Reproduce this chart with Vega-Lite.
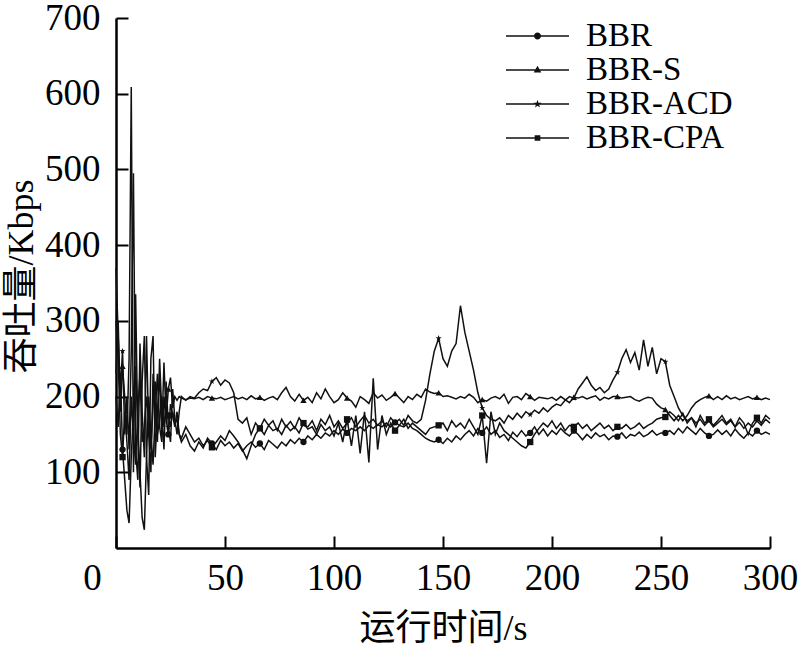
{
"$schema": "https://vega.github.io/schema/vega-lite/v6.json",
"width": 654, "height": 530,
"autosize": {"type": "none"},
"padding": {"left": 116, "top": 18, "right": 30, "bottom": 98},
"background": "white",
"config": {"view": {"stroke": null}, "font": "'Times New Roman', 'Liberation Serif', 'DejaVu Serif', serif"},
"data": {"values": [
{"t":0,"BBR":200,"BBR-S":230,"BBR-ACD":370,"BBR-CPA":300,"m":0},
{"t":1,"BBR":160,"BBR-S":300,"BBR-ACD":280,"BBR-CPA":250,"m":0},
{"t":2,"BBR":230,"BBR-S":180,"BBR-ACD":210,"BBR-CPA":150,"m":0},
{"t":3,"BBR":130,"BBR-S":240,"BBR-ACD":260,"BBR-CPA":120,"m":1},
{"t":4,"BBR":90,"BBR-S":200,"BBR-ACD":150,"BBR-CPA":180,"m":0},
{"t":5,"BBR":50,"BBR-S":150,"BBR-ACD":200,"BBR-CPA":140,"m":0},
{"t":6,"BBR":33,"BBR-S":250,"BBR-ACD":130,"BBR-CPA":90,"m":0},
{"t":7,"BBR":120,"BBR-S":609,"BBR-ACD":260,"BBR-CPA":200,"m":0},
{"t":8,"BBR":180,"BBR-S":100,"BBR-ACD":495,"BBR-CPA":150,"m":0},
{"t":9,"BBR":240,"BBR-S":335,"BBR-ACD":130,"BBR-CPA":110,"m":0},
{"t":10,"BBR":160,"BBR-S":150,"BBR-ACD":90,"BBR-CPA":180,"m":0},
{"t":11,"BBR":100,"BBR-S":80,"BBR-ACD":270,"BBR-CPA":230,"m":0},
{"t":12,"BBR":40,"BBR-S":220,"BBR-ACD":180,"BBR-CPA":140,"m":0},
{"t":13,"BBR":24,"BBR-S":280,"BBR-ACD":120,"BBR-CPA":160,"m":0},
{"t":14,"BBR":120,"BBR-S":120,"BBR-ACD":280,"BBR-CPA":200,"m":0},
{"t":15,"BBR":200,"BBR-S":70,"BBR-ACD":150,"BBR-CPA":170,"m":0},
{"t":16,"BBR":150,"BBR-S":250,"BBR-ACD":100,"BBR-CPA":130,"m":0},
{"t":17,"BBR":110,"BBR-S":280,"BBR-ACD":230,"BBR-CPA":190,"m":0},
{"t":18,"BBR":180,"BBR-S":120,"BBR-ACD":170,"BBR-CPA":220,"m":0},
{"t":19,"BBR":230,"BBR-S":180,"BBR-ACD":140,"BBR-CPA":150,"m":0},
{"t":20,"BBR":160,"BBR-S":230,"BBR-ACD":250,"BBR-CPA":170,"m":0},
{"t":21,"BBR":140,"BBR-S":150,"BBR-ACD":180,"BBR-CPA":200,"m":0},
{"t":22,"BBR":200,"BBR-S":245,"BBR-ACD":130,"BBR-CPA":160,"m":0},
{"t":23,"BBR":170,"BBR-S":170,"BBR-ACD":220,"BBR-CPA":185,"m":0},
{"t":24,"BBR":150,"BBR-S":210,"BBR-ACD":160,"BBR-CPA":175,"m":1},
{"t":25,"BBR":190,"BBR-S":225,"BBR-ACD":140,"BBR-CPA":160,"m":0},
{"t":26,"BBR":175,"BBR-S":185,"BBR-ACD":210,"BBR-CPA":180,"m":0},
{"t":27,"BBR":160,"BBR-S":200,"BBR-ACD":170,"BBR-CPA":165,"m":0},
{"t":28,"BBR":180,"BBR-S":195,"BBR-ACD":150,"BBR-CPA":170,"m":0},
{"t":29,"BBR":150,"BBR-S":200,"BBR-ACD":180,"BBR-CPA":150,"m":0},
{"t":30,"BBR":140,"BBR-S":198,"BBR-ACD":200,"BBR-CPA":145,"m":0},
{"t":32,"BBR":150,"BBR-S":196,"BBR-ACD":195,"BBR-CPA":160,"m":0},
{"t":34,"BBR":135,"BBR-S":198,"BBR-ACD":200,"BBR-CPA":150,"m":0},
{"t":36,"BBR":128,"BBR-S":197,"BBR-ACD":198,"BBR-CPA":140,"m":0},
{"t":38,"BBR":140,"BBR-S":199,"BBR-ACD":205,"BBR-CPA":145,"m":0},
{"t":40,"BBR":132,"BBR-S":196,"BBR-ACD":210,"BBR-CPA":135,"m":0},
{"t":42,"BBR":145,"BBR-S":200,"BBR-ACD":208,"BBR-CPA":142,"m":0},
{"t":44,"BBR":138,"BBR-S":198,"BBR-ACD":220,"BBR-CPA":133,"m":1},
{"t":46,"BBR":130,"BBR-S":197,"BBR-ACD":225,"BBR-CPA":140,"m":0},
{"t":48,"BBR":142,"BBR-S":199,"BBR-ACD":215,"BBR-CPA":148,"m":0},
{"t":50,"BBR":135,"BBR-S":196,"BBR-ACD":222,"BBR-CPA":142,"m":0},
{"t":52,"BBR":140,"BBR-S":198,"BBR-ACD":218,"BBR-CPA":155,"m":0},
{"t":54,"BBR":132,"BBR-S":200,"BBR-ACD":205,"BBR-CPA":148,"m":0},
{"t":56,"BBR":138,"BBR-S":197,"BBR-ACD":170,"BBR-CPA":140,"m":0},
{"t":58,"BBR":128,"BBR-S":199,"BBR-ACD":165,"BBR-CPA":130,"m":0},
{"t":60,"BBR":135,"BBR-S":196,"BBR-ACD":172,"BBR-CPA":118,"m":0},
{"t":62,"BBR":140,"BBR-S":201,"BBR-ACD":150,"BBR-CPA":135,"m":0},
{"t":64,"BBR":133,"BBR-S":197,"BBR-ACD":165,"BBR-CPA":150,"m":0},
{"t":66,"BBR":138,"BBR-S":199,"BBR-ACD":158,"BBR-CPA":158,"m":1},
{"t":68,"BBR":130,"BBR-S":195,"BBR-ACD":170,"BBR-CPA":150,"m":0},
{"t":70,"BBR":142,"BBR-S":198,"BBR-ACD":162,"BBR-CPA":162,"m":0},
{"t":72,"BBR":137,"BBR-S":200,"BBR-ACD":168,"BBR-CPA":155,"m":0},
{"t":74,"BBR":132,"BBR-S":196,"BBR-ACD":155,"BBR-CPA":158,"m":0},
{"t":76,"BBR":140,"BBR-S":205,"BBR-ACD":170,"BBR-CPA":150,"m":0},
{"t":78,"BBR":135,"BBR-S":212,"BBR-ACD":160,"BBR-CPA":162,"m":0},
{"t":80,"BBR":143,"BBR-S":200,"BBR-ACD":167,"BBR-CPA":155,"m":0},
{"t":82,"BBR":138,"BBR-S":194,"BBR-ACD":158,"BBR-CPA":160,"m":0},
{"t":84,"BBR":145,"BBR-S":203,"BBR-ACD":172,"BBR-CPA":152,"m":0},
{"t":86,"BBR":140,"BBR-S":195,"BBR-ACD":163,"BBR-CPA":165,"m":1},
{"t":88,"BBR":148,"BBR-S":199,"BBR-ACD":160,"BBR-CPA":157,"m":0},
{"t":90,"BBR":143,"BBR-S":192,"BBR-ACD":168,"BBR-CPA":160,"m":0},
{"t":92,"BBR":150,"BBR-S":205,"BBR-ACD":155,"BBR-CPA":150,"m":0},
{"t":94,"BBR":145,"BBR-S":197,"BBR-ACD":170,"BBR-CPA":163,"m":0},
{"t":96,"BBR":152,"BBR-S":210,"BBR-ACD":163,"BBR-CPA":155,"m":0},
{"t":98,"BBR":148,"BBR-S":200,"BBR-ACD":175,"BBR-CPA":160,"m":0},
{"t":100,"BBR":155,"BBR-S":192,"BBR-ACD":160,"BBR-CPA":148,"m":0},
{"t":102,"BBR":150,"BBR-S":196,"BBR-ACD":168,"BBR-CPA":165,"m":0},
{"t":104,"BBR":157,"BBR-S":205,"BBR-ACD":158,"BBR-CPA":140,"m":0},
{"t":106,"BBR":152,"BBR-S":198,"BBR-ACD":165,"BBR-CPA":170,"m":1},
{"t":108,"BBR":158,"BBR-S":194,"BBR-ACD":172,"BBR-CPA":135,"m":0},
{"t":110,"BBR":155,"BBR-S":186,"BBR-ACD":160,"BBR-CPA":175,"m":0},
{"t":112,"BBR":160,"BBR-S":200,"BBR-ACD":168,"BBR-CPA":125,"m":0},
{"t":114,"BBR":155,"BBR-S":196,"BBR-ACD":175,"BBR-CPA":180,"m":0},
{"t":116,"BBR":162,"BBR-S":191,"BBR-ACD":165,"BBR-CPA":113,"m":0},
{"t":118,"BBR":158,"BBR-S":205,"BBR-ACD":170,"BBR-CPA":224,"m":0},
{"t":120,"BBR":163,"BBR-S":198,"BBR-ACD":162,"BBR-CPA":130,"m":0},
{"t":122,"BBR":160,"BBR-S":202,"BBR-ACD":168,"BBR-CPA":175,"m":0},
{"t":124,"BBR":165,"BBR-S":195,"BBR-ACD":160,"BBR-CPA":150,"m":0},
{"t":126,"BBR":160,"BBR-S":199,"BBR-ACD":172,"BBR-CPA":165,"m":0},
{"t":128,"BBR":166,"BBR-S":204,"BBR-ACD":165,"BBR-CPA":155,"m":1},
{"t":130,"BBR":162,"BBR-S":198,"BBR-ACD":170,"BBR-CPA":162,"m":0},
{"t":132,"BBR":160,"BBR-S":192,"BBR-ACD":162,"BBR-CPA":170,"m":0},
{"t":134,"BBR":165,"BBR-S":200,"BBR-ACD":175,"BBR-CPA":158,"m":0},
{"t":136,"BBR":158,"BBR-S":196,"BBR-ACD":168,"BBR-CPA":165,"m":0},
{"t":138,"BBR":155,"BBR-S":203,"BBR-ACD":165,"BBR-CPA":160,"m":0},
{"t":140,"BBR":150,"BBR-S":199,"BBR-ACD":170,"BBR-CPA":155,"m":0},
{"t":142,"BBR":145,"BBR-S":210,"BBR-ACD":195,"BBR-CPA":150,"m":0},
{"t":144,"BBR":142,"BBR-S":206,"BBR-ACD":230,"BBR-CPA":158,"m":0},
{"t":146,"BBR":140,"BBR-S":204,"BBR-ACD":260,"BBR-CPA":160,"m":0},
{"t":148,"BBR":143,"BBR-S":205,"BBR-ACD":277,"BBR-CPA":162,"m":1},
{"t":150,"BBR":138,"BBR-S":200,"BBR-ACD":250,"BBR-CPA":165,"m":0},
{"t":152,"BBR":145,"BBR-S":201,"BBR-ACD":240,"BBR-CPA":155,"m":0},
{"t":154,"BBR":140,"BBR-S":199,"BBR-ACD":260,"BBR-CPA":168,"m":0},
{"t":156,"BBR":148,"BBR-S":197,"BBR-ACD":270,"BBR-CPA":160,"m":0},
{"t":158,"BBR":143,"BBR-S":200,"BBR-ACD":320,"BBR-CPA":165,"m":0},
{"t":160,"BBR":150,"BBR-S":198,"BBR-ACD":285,"BBR-CPA":158,"m":0},
{"t":162,"BBR":155,"BBR-S":203,"BBR-ACD":260,"BBR-CPA":170,"m":0},
{"t":164,"BBR":148,"BBR-S":199,"BBR-ACD":235,"BBR-CPA":160,"m":0},
{"t":166,"BBR":158,"BBR-S":192,"BBR-ACD":205,"BBR-CPA":150,"m":0},
{"t":168,"BBR":152,"BBR-S":196,"BBR-ACD":185,"BBR-CPA":175,"m":1},
{"t":170,"BBR":160,"BBR-S":194,"BBR-ACD":175,"BBR-CPA":112,"m":0},
{"t":172,"BBR":150,"BBR-S":198,"BBR-ACD":170,"BBR-CPA":180,"m":0},
{"t":174,"BBR":155,"BBR-S":200,"BBR-ACD":168,"BBR-CPA":150,"m":0},
{"t":176,"BBR":146,"BBR-S":197,"BBR-ACD":172,"BBR-CPA":165,"m":0},
{"t":178,"BBR":150,"BBR-S":203,"BBR-ACD":165,"BBR-CPA":155,"m":0},
{"t":180,"BBR":142,"BBR-S":191,"BBR-ACD":175,"BBR-CPA":150,"m":0},
{"t":182,"BBR":153,"BBR-S":199,"BBR-ACD":170,"BBR-CPA":145,"m":0},
{"t":184,"BBR":147,"BBR-S":200,"BBR-ACD":178,"BBR-CPA":140,"m":0},
{"t":186,"BBR":155,"BBR-S":196,"BBR-ACD":172,"BBR-CPA":135,"m":0},
{"t":188,"BBR":148,"BBR-S":204,"BBR-ACD":180,"BBR-CPA":132,"m":0},
{"t":190,"BBR":152,"BBR-S":200,"BBR-ACD":176,"BBR-CPA":140,"m":1},
{"t":192,"BBR":160,"BBR-S":195,"BBR-ACD":182,"BBR-CPA":150,"m":0},
{"t":194,"BBR":150,"BBR-S":199,"BBR-ACD":178,"BBR-CPA":158,"m":0},
{"t":196,"BBR":157,"BBR-S":198,"BBR-ACD":185,"BBR-CPA":165,"m":0},
{"t":198,"BBR":148,"BBR-S":197,"BBR-ACD":180,"BBR-CPA":160,"m":0},
{"t":200,"BBR":155,"BBR-S":199,"BBR-ACD":186,"BBR-CPA":168,"m":0},
{"t":202,"BBR":150,"BBR-S":195,"BBR-ACD":190,"BBR-CPA":158,"m":0},
{"t":204,"BBR":158,"BBR-S":200,"BBR-ACD":188,"BBR-CPA":165,"m":0},
{"t":206,"BBR":152,"BBR-S":196,"BBR-ACD":195,"BBR-CPA":155,"m":0},
{"t":208,"BBR":148,"BBR-S":192,"BBR-ACD":200,"BBR-CPA":162,"m":0},
{"t":210,"BBR":155,"BBR-S":199,"BBR-ACD":198,"BBR-CPA":160,"m":1},
{"t":212,"BBR":150,"BBR-S":198,"BBR-ACD":210,"BBR-CPA":165,"m":0},
{"t":214,"BBR":143,"BBR-S":200,"BBR-ACD":218,"BBR-CPA":158,"m":0},
{"t":216,"BBR":150,"BBR-S":197,"BBR-ACD":226,"BBR-CPA":163,"m":0},
{"t":218,"BBR":145,"BBR-S":199,"BBR-ACD":215,"BBR-CPA":155,"m":0},
{"t":220,"BBR":152,"BBR-S":201,"BBR-ACD":208,"BBR-CPA":160,"m":0},
{"t":222,"BBR":147,"BBR-S":195,"BBR-ACD":212,"BBR-CPA":165,"m":0},
{"t":224,"BBR":150,"BBR-S":199,"BBR-ACD":205,"BBR-CPA":158,"m":0},
{"t":226,"BBR":143,"BBR-S":197,"BBR-ACD":210,"BBR-CPA":162,"m":0},
{"t":228,"BBR":148,"BBR-S":200,"BBR-ACD":222,"BBR-CPA":155,"m":0},
{"t":230,"BBR":147,"BBR-S":200,"BBR-ACD":232,"BBR-CPA":160,"m":1},
{"t":232,"BBR":152,"BBR-S":198,"BBR-ACD":250,"BBR-CPA":158,"m":0},
{"t":234,"BBR":145,"BBR-S":199,"BBR-ACD":262,"BBR-CPA":163,"m":0},
{"t":236,"BBR":150,"BBR-S":200,"BBR-ACD":245,"BBR-CPA":157,"m":0},
{"t":238,"BBR":148,"BBR-S":196,"BBR-ACD":258,"BBR-CPA":160,"m":0},
{"t":240,"BBR":153,"BBR-S":194,"BBR-ACD":235,"BBR-CPA":165,"m":0},
{"t":242,"BBR":147,"BBR-S":197,"BBR-ACD":275,"BBR-CPA":158,"m":0},
{"t":244,"BBR":150,"BBR-S":199,"BBR-ACD":240,"BBR-CPA":162,"m":0},
{"t":246,"BBR":155,"BBR-S":198,"BBR-ACD":265,"BBR-CPA":165,"m":0},
{"t":248,"BBR":149,"BBR-S":190,"BBR-ACD":230,"BBR-CPA":170,"m":0},
{"t":250,"BBR":152,"BBR-S":185,"BBR-ACD":250,"BBR-CPA":172,"m":0},
{"t":252,"BBR":152,"BBR-S":183,"BBR-ACD":246,"BBR-CPA":173,"m":1},
{"t":254,"BBR":155,"BBR-S":175,"BBR-ACD":215,"BBR-CPA":180,"m":0},
{"t":256,"BBR":150,"BBR-S":168,"BBR-ACD":200,"BBR-CPA":175,"m":0},
{"t":258,"BBR":158,"BBR-S":175,"BBR-ACD":185,"BBR-CPA":168,"m":0},
{"t":260,"BBR":152,"BBR-S":168,"BBR-ACD":175,"BBR-CPA":178,"m":0},
{"t":262,"BBR":160,"BBR-S":175,"BBR-ACD":168,"BBR-CPA":165,"m":0},
{"t":264,"BBR":155,"BBR-S":185,"BBR-ACD":172,"BBR-CPA":172,"m":0},
{"t":266,"BBR":150,"BBR-S":192,"BBR-ACD":165,"BBR-CPA":160,"m":0},
{"t":268,"BBR":158,"BBR-S":196,"BBR-ACD":170,"BBR-CPA":175,"m":0},
{"t":270,"BBR":152,"BBR-S":199,"BBR-ACD":162,"BBR-CPA":165,"m":0},
{"t":272,"BBR":148,"BBR-S":201,"BBR-ACD":168,"BBR-CPA":170,"m":1},
{"t":274,"BBR":150,"BBR-S":196,"BBR-ACD":160,"BBR-CPA":162,"m":0},
{"t":276,"BBR":156,"BBR-S":200,"BBR-ACD":165,"BBR-CPA":168,"m":0},
{"t":278,"BBR":150,"BBR-S":196,"BBR-ACD":170,"BBR-CPA":175,"m":0},
{"t":280,"BBR":155,"BBR-S":201,"BBR-ACD":163,"BBR-CPA":165,"m":0},
{"t":282,"BBR":148,"BBR-S":197,"BBR-ACD":168,"BBR-CPA":170,"m":0},
{"t":284,"BBR":157,"BBR-S":199,"BBR-ACD":160,"BBR-CPA":160,"m":0},
{"t":286,"BBR":150,"BBR-S":196,"BBR-ACD":166,"BBR-CPA":172,"m":0},
{"t":288,"BBR":145,"BBR-S":198,"BBR-ACD":158,"BBR-CPA":165,"m":0},
{"t":290,"BBR":152,"BBR-S":200,"BBR-ACD":165,"BBR-CPA":150,"m":0},
{"t":292,"BBR":148,"BBR-S":197,"BBR-ACD":160,"BBR-CPA":165,"m":0},
{"t":294,"BBR":155,"BBR-S":199,"BBR-ACD":168,"BBR-CPA":172,"m":1},
{"t":296,"BBR":150,"BBR-S":196,"BBR-ACD":162,"BBR-CPA":165,"m":0},
{"t":298,"BBR":153,"BBR-S":198,"BBR-ACD":170,"BBR-CPA":175,"m":0},
{"t":300,"BBR":150,"BBR-S":196,"BBR-ACD":165,"BBR-CPA":170,"m":0}
]},
"transform": [{"fold": ["BBR", "BBR-S", "BBR-ACD", "BBR-CPA"], "as": ["s", "v"]}],
"encoding": {
  "x": {"field": "t", "type": "quantitative", "scale": {"domain": [0, 300], "nice": false},
    "axis": {"title": "运行时间/s", "titleFont": "'Times New Roman', 'Liberation Serif', 'Noto Sans CJK SC', serif", "titleFontSize": 36, "titleFontWeight": "normal", "titleColor": "black",
      "titleX": 327, "titleY": 80, "titleBaseline": "middle", "titleAlign": "center",
      "values": [0, 50, 100, 150, 200, 250, 300], "labelFont": "'Times New Roman', 'Liberation Serif', serif", "labelFontSize": 37, "labelColor": "black", "labelFlush": false,
      "labelOffset": {"condition": {"test": "datum.value == 0", "value": -24}, "value": 0},
      "tickSize": -12, "labelPadding": 24, "tickColor": "black", "tickWidth": 2, "domainColor": "black", "domainWidth": 2.5, "grid": false}},
  "y": {"field": "v", "type": "quantitative", "scale": {"domain": [0, 700], "nice": false},
    "axis": {"title": "吞吐量/Kbps", "titleFont": "'Times New Roman', 'Liberation Serif', 'Noto Sans CJK SC', serif", "titleFontSize": 36, "titleFontWeight": "normal", "titleColor": "black",
      "titleX": -95, "titleY": 258, "titleBaseline": "middle", "titleAlign": "center", "titleAngle": -90,
      "values": [100, 200, 300, 400, 500, 600, 700], "labelFont": "'Times New Roman', 'Liberation Serif', serif", "labelFontSize": 37, "labelColor": "black",
      "tickSize": -12, "labelPadding": 28, "tickColor": "black", "tickWidth": 2, "domainColor": "black", "domainWidth": 2.5, "grid": false}}
},
"layer": [
  {"mark": {"type": "line", "color": "#111111", "strokeWidth": 1.5}, "encoding": {"detail": {"field": "s"}}},
  {"transform": [{"filter": "datum.m == 1"}],
   "mark": {"type": "point", "filled": true, "color": "#111111", "size": 40, "opacity": 1},
   "encoding": {"shape": {"field": "s", "type": "nominal",
     "scale": {"domain": ["BBR", "BBR-S", "BBR-ACD", "BBR-CPA"], "range": ["circle", "triangle-up", "M0,-1L0.235,-0.324L0.951,-0.309L0.38,0.124L0.588,0.809L0,0.4L-0.588,0.809L-0.38,0.124L-0.951,-0.309L-0.235,-0.324Z", "square"]},
     "legend": null}}},
  {"transform": [{"filter": "datum.t == 0"}],
   "mark": {"type": "point", "filled": true, "color": "#111111", "size": 441, "opacity": 0},
   "encoding": {"shape": {"field": "s", "type": "nominal",
     "scale": {"domain": ["BBR", "BBR-S", "BBR-ACD", "BBR-CPA"], "range": [
       "M-3,-0.07H3V0.07H-3ZM0.33,0A0.33,0.33 0 1,1 -0.33,0A0.33,0.33 0 1,1 0.33,0Z",
       "M-3,-0.07H3V0.07H-3ZM0,-0.4L0.36,0.24L-0.36,0.24Z",
       "M-3,-0.07H3V0.07H-3ZM0,-0.4L0.094,-0.13L0.38,-0.124L0.152,0.05L0.235,0.324L0,0.16L-0.235,0.324L-0.152,0.05L-0.38,-0.124L-0.094,-0.13Z",
       "M-3,-0.07H3V0.07H-3ZM-0.27,-0.27H0.27V0.27H-0.27Z"]},
     "legend": {"title": null, "orient": "none", "legendX": 405, "legendY": 1.5, "padding": 0,
       "labelFont": "'Times New Roman', 'Liberation Serif', serif", "labelFontSize": 33, "labelColor": "black", "labelOffset": 32, "labelLimit": 400, "rowPadding": 0,
       "symbolSize": 441, "symbolOpacity": 1, "symbolFillColor": "#111111", "symbolStrokeColor": "#111111", "symbolStrokeWidth": 0,
       "encode": {"symbols": {"update": {"opacity": {"value": 1}, "fill": {"value": "#111111"}, "fillOpacity": {"value": 1}}}}}}}}
],
"resolve": {"scale": {"shape": "independent"}, "legend": {"shape": "independent"}}
}
